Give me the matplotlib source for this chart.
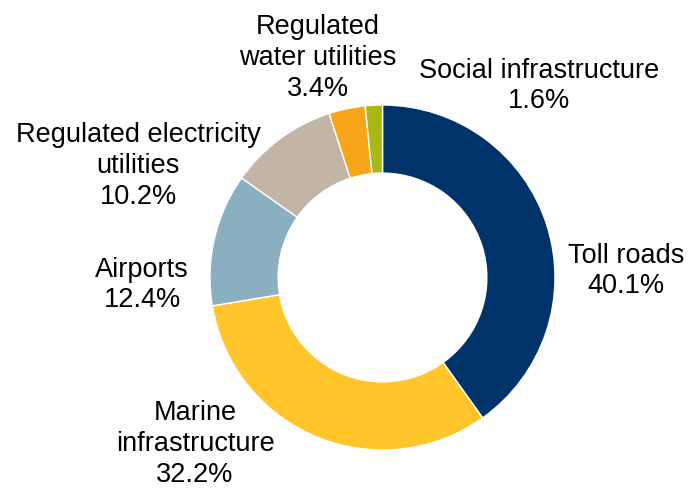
import matplotlib
matplotlib.use("Agg")
import matplotlib.pyplot as plt

categories = ["Toll roads", "Marine\ninfrastructure", "Airports",
              "Regulated electricity\nutilities", "Regulated\nwater utilities",
              "Social infrastructure"]
shares = [40.1, 32.2, 12.4, 10.2, 3.4, 1.6]
colors = ["#00336A", "#FFC52A", "#8AAFC0", "#C2B5A5", "#F9A51A", "#A8B914"]

# label centres in pixels (x, y from top) of the 691x489 canvas
label_px = [(626, 271), (195, 444), (142, 285), (138, 166), (318, 58), (539, 86)]

plt.rcParams['font.family'] = ['Liberation Sans', 'DejaVu Sans']

W, H = 691, 489
fig = plt.figure(figsize=(W / 100, H / 100), dpi=100)
cx, cy, r = 382.5, 278.5, 172.5
ax = fig.add_axes([(cx - r) / W, 1 - (cy + r) / H, 2 * r / W, 2 * r / H])
ax.pie(shares, colors=colors, startangle=90, counterclock=False, radius=1,
       wedgeprops=dict(width=0.395, edgecolor="white", linewidth=1.0))
ax.set_xlim(-1, 1)
ax.set_ylim(-1, 1)
ax.set_aspect("equal")
ax.axis("off")

for name, val, (px, py) in zip(categories, shares, label_px):
    fig.text(px / W, 1 - py / H, "{}\n{:.1f}%".format(name, val),
             ha="center", va="center", fontsize=19.5, linespacing=1.24,
             color="#000000")

fig.savefig("out.png", dpi=100)
